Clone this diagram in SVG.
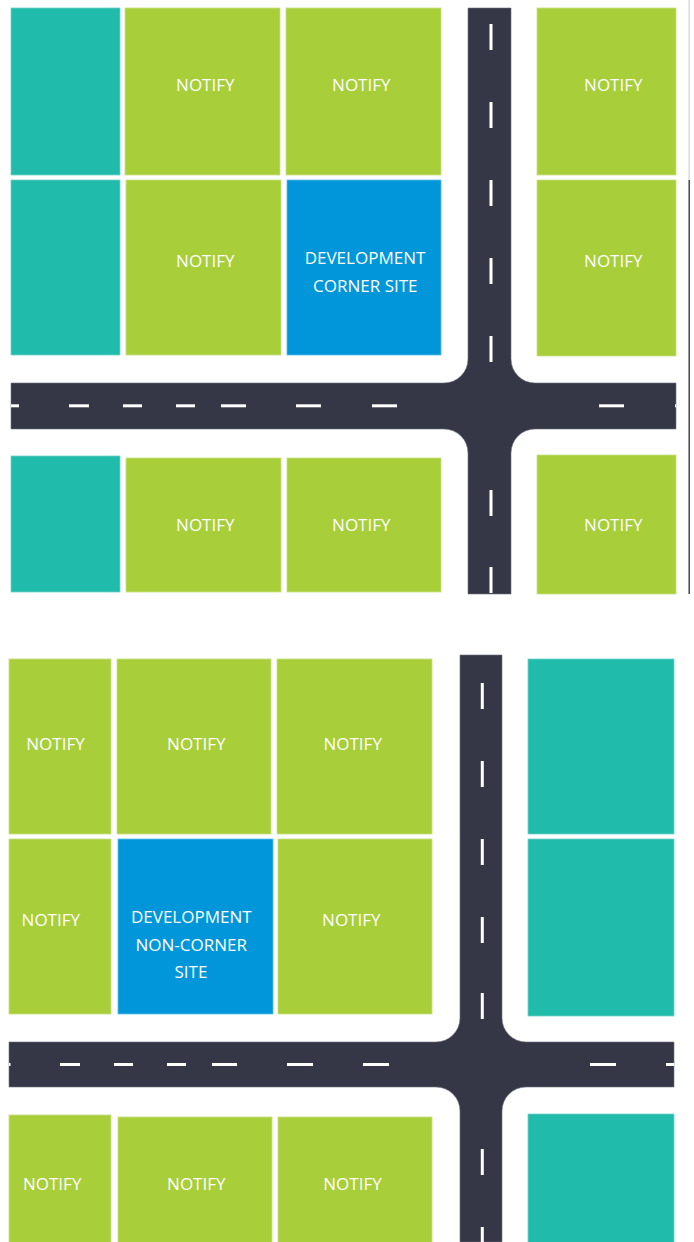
<svg xmlns="http://www.w3.org/2000/svg" width="694" height="1242" viewBox="0 0 694 1242">
<style>
.teal{fill:#21BBAB;stroke:#6fd3c8;stroke-width:0.8}
.green{fill:#A8CE3A;stroke:#c6e07f;stroke-width:0.8}
.blue{fill:#0096D9;stroke:#5cbde9;stroke-width:0.8}
.lbl{font-family:"Open Sans","Noto Sans","Liberation Sans",sans-serif;font-size:17px;fill:#ffffff;text-anchor:middle}
.road{fill:#353746;stroke:#6e7080;stroke-width:0.6}
.dash{fill:#ffffff}
</style>
<rect width="694" height="1242" fill="#ffffff"/>

<g id="roads">
  <path class="road" d="M468,8 H511 V359 A24,24 0 0 0 535,383 H676 V429 H535 A24,24 0 0 0 511,453 V594 H468 V453 A24,24 0 0 0 444,429 H11 V383 H444 A24,24 0 0 0 468,359 Z"/>
  <path class="road" d="M460,655 H502 V1018 A24,24 0 0 0 526,1042 H674 V1087 H526 A24,24 0 0 0 502,1111 V1242 H460 V1111 A24,24 0 0 0 436,1087 H9 V1042 H436 A24,24 0 0 0 460,1018 Z"/>
  <g id="dashes-top">
    <rect class="dash" x="489.5" y="24" width="3" height="26"/>
    <rect class="dash" x="489.5" y="102" width="3" height="26"/>
    <rect class="dash" x="489.5" y="180" width="3" height="26"/>
    <rect class="dash" x="489.5" y="258" width="3" height="26"/>
    <rect class="dash" x="489.5" y="336" width="3" height="26"/>
    <rect class="dash" x="489.5" y="490" width="3" height="26"/>
    <rect class="dash" x="489.5" y="567" width="3" height="26"/>
    <rect class="dash" x="11" y="404.3" width="8" height="3"/>
    <rect class="dash" x="69" y="404.3" width="20" height="3"/>
    <rect class="dash" x="123" y="404.3" width="19" height="3"/>
    <rect class="dash" x="176" y="404.3" width="19" height="3"/>
    <rect class="dash" x="221" y="404.3" width="25" height="3"/>
    <rect class="dash" x="296" y="404.3" width="25" height="3"/>
    <rect class="dash" x="372" y="404.3" width="25" height="3"/>
    <rect class="dash" x="599" y="404.3" width="25" height="3"/>
    <rect class="dash" x="675" y="404.3" width="1" height="3"/>
  </g>
  <g id="dashes-bottom">
    <rect class="dash" x="480.8" y="683" width="3" height="26"/>
    <rect class="dash" x="480.8" y="761" width="3" height="26"/>
    <rect class="dash" x="480.8" y="839" width="3" height="26"/>
    <rect class="dash" x="480.8" y="917" width="3" height="26"/>
    <rect class="dash" x="480.8" y="993" width="3" height="26"/>
    <rect class="dash" x="480.8" y="1149" width="3" height="26"/>
    <rect class="dash" x="480.8" y="1227" width="3" height="15"/>
    <rect class="dash" x="9" y="1063" width="1.5" height="3"/>
    <rect class="dash" x="60" y="1063" width="20" height="3"/>
    <rect class="dash" x="114" y="1063" width="19" height="3"/>
    <rect class="dash" x="167" y="1063" width="19" height="3"/>
    <rect class="dash" x="212" y="1063" width="25" height="3"/>
    <rect class="dash" x="287" y="1063" width="26" height="3"/>
    <rect class="dash" x="363" y="1063" width="26" height="3"/>
    <rect class="dash" x="590" y="1063" width="26" height="3"/>
    <rect class="dash" x="666" y="1063" width="8" height="3"/>
  </g>
</g>

<g id="edge-line">
  <rect x="688.5" y="0" width="1.2" height="180" fill="#d0d0d4"/>
  <rect x="688.5" y="180" width="1.4" height="414" fill="#353746"/>
</g>

<!-- Top scenario: corner site -->
<g id="top-teal-1"><rect class="teal" x="11" y="8" width="109" height="167"/></g>
<g id="top-notify-1"><rect class="green" x="125" y="8" width="155" height="167"/><text class="lbl" x="205.3" y="91">NOTIFY</text></g>
<g id="top-notify-2"><rect class="green" x="286" y="8" width="155" height="167"/><text class="lbl" x="361.3" y="91">NOTIFY</text></g>
<g id="top-notify-3"><rect class="green" x="537" y="8" width="139" height="167"/><text class="lbl" x="613.3" y="91">NOTIFY</text></g>
<g id="top-teal-2"><rect class="teal" x="11" y="180" width="109" height="175"/></g>
<g id="top-notify-4"><rect class="green" x="126" y="180" width="155" height="175"/><text class="lbl" x="205.3" y="266.7">NOTIFY</text></g>
<g id="top-development"><rect class="blue" x="287" y="180" width="154" height="175"/><text class="lbl" x="365" y="264.3">DEVELOPMENT</text><text class="lbl" x="365.3" y="292.3">CORNER SITE</text></g>
<g id="top-notify-5"><rect class="green" x="537" y="180" width="139" height="176"/><text class="lbl" x="613.3" y="267">NOTIFY</text></g>
<g id="top-teal-3"><rect class="teal" x="11" y="456" width="109" height="136"/></g>
<g id="top-notify-6"><rect class="green" x="126" y="458" width="155" height="134"/><text class="lbl" x="205.3" y="531">NOTIFY</text></g>
<g id="top-notify-7"><rect class="green" x="287" y="458" width="154" height="134"/><text class="lbl" x="361.3" y="531">NOTIFY</text></g>
<g id="top-notify-8"><rect class="green" x="537" y="455" width="139" height="139"/><text class="lbl" x="613.3" y="530.7">NOTIFY</text></g>

<!-- Bottom scenario: non-corner site -->
<g id="bot-notify-1"><rect class="green" x="9" y="659" width="102" height="175"/><text class="lbl" x="55.5" y="750">NOTIFY</text></g>
<g id="bot-notify-2"><rect class="green" x="117" y="659" width="154" height="175"/><text class="lbl" x="196.3" y="750">NOTIFY</text></g>
<g id="bot-notify-3"><rect class="green" x="277" y="659" width="155" height="175"/><text class="lbl" x="352.7" y="750">NOTIFY</text></g>
<g id="bot-teal-1"><rect class="teal" x="528" y="659" width="146" height="175"/></g>
<g id="bot-notify-4"><rect class="green" x="9" y="839" width="102" height="175"/><text class="lbl" x="50.8" y="926">NOTIFY</text></g>
<g id="bot-development"><rect class="blue" x="118" y="839" width="155" height="175"/><text class="lbl" x="191.3" y="923.3">DEVELOPMENT</text><text class="lbl" x="191.2" y="950.5">NON-CORNER</text><text class="lbl" x="191" y="977.7">SITE</text></g>
<g id="bot-notify-5"><rect class="green" x="278" y="839" width="154" height="175"/><text class="lbl" x="351.3" y="926">NOTIFY</text></g>
<g id="bot-teal-2"><rect class="teal" x="528" y="839" width="146" height="177"/></g>
<g id="bot-notify-6"><rect class="green" x="9" y="1115" width="102" height="130"/><text class="lbl" x="52.2" y="1190">NOTIFY</text></g>
<g id="bot-notify-7"><rect class="green" x="118" y="1117" width="154" height="128"/><text class="lbl" x="196.3" y="1190">NOTIFY</text></g>
<g id="bot-notify-8"><rect class="green" x="278" y="1117" width="154" height="128"/><text class="lbl" x="352.5" y="1190">NOTIFY</text></g>
<g id="bot-teal-3"><rect class="teal" x="528" y="1114" width="146" height="131"/></g>
</svg>
